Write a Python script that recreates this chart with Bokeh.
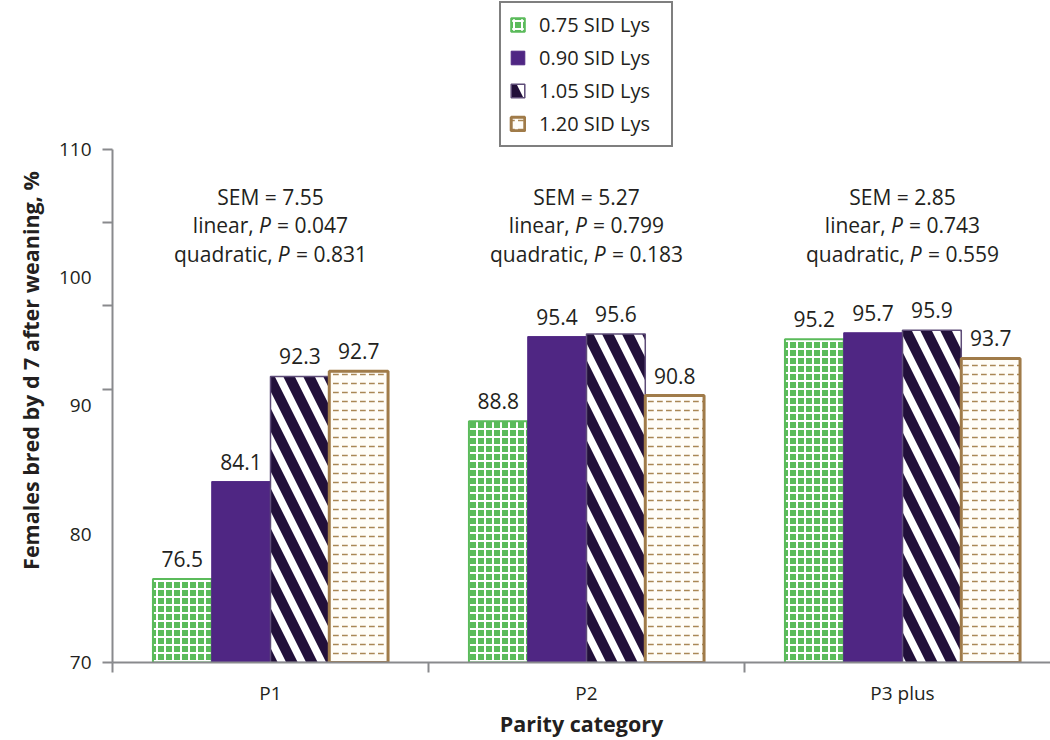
from bokeh.plotting import figure
from bokeh.models import ColumnDataSource, FixedTicker, Range1d, Legend, LegendItem, Title
from bokeh.core.properties import value
from bokeh.embed import file_html
from bokeh.resources import INLINE

# ---------------- data ----------------
categories = ["P1", "P2", "P3 plus"]
treatments = ["0.75 SID Lys", "0.90 SID Lys", "1.05 SID Lys", "1.20 SID Lys"]
lys_075 = [76.5, 88.8, 95.2]
lys_090 = [84.1, 95.4, 95.7]
lys_105 = [92.3, 95.6, 95.9]
lys_120 = [92.7, 90.8, 93.7]
sem_values = ["7.55", "5.27", "2.85"]
p_linear = ["0.047", "0.799", "0.743"]
p_quadratic = ["0.831", "0.183", "0.559"]
y_ticks = [70, 80, 90, 100, 110]
y_title = "Females bred by d 7 after weaning, %"
x_title = "Parity category"

# ---------------- style ----------------
FONT = "Open Sans"
TEXT = "#231F20"
AXIS = "#898A8D"
Y0, Y1 = 70, 110
W, H = 1050, 740
B_LEFT, B_BOTTOM, B_RIGHT = 112, 77, 0
FRAME_W = W - B_LEFT - B_RIGHT
FRAME_H = H - B_BOTTOM             # frame reaches the top of the canvas
AXIS_TOP_PX = 149                  # where the 110 line sits
PXY = (FRAME_H - AXIS_TOP_PX) / (Y1 - Y0)
Y_END = Y1 + AXIS_TOP_PX / PXY
X_END = FRAME_W / 316.0

p = figure(width=W, height=H, x_range=Range1d(0, X_END), y_range=Range1d(Y0, Y_END),
           output_backend="svg", toolbar_location=None,
           min_border_left=B_LEFT, min_border_top=0,
           min_border_bottom=B_BOTTOM, min_border_right=B_RIGHT)
p.outline_line_color = None
p.xgrid.visible = False
p.ygrid.visible = False
p.background_fill_color = "white"
p.border_fill_color = "white"

series = [lys_075, lys_090, lys_105, lys_120]
bar_w = 0.186
offsets = [-1.5 * bar_w, -0.5 * bar_w, 0.5 * bar_w, 1.5 * bar_w]
styles = [
    dict(fill_color="#5BBB5B", line_color="#5BBB5B", line_width=2,
         hatch_pattern="+", hatch_color="white", hatch_scale=8, hatch_weight=2),
    dict(fill_color="#4F2683", line_color="#4F2683", line_width=1),
    dict(fill_color="#22103A", line_color="#5E4C78", line_width=1.5,
         hatch_pattern="\\", hatch_color="white", hatch_scale=40, hatch_weight=7.5),
    dict(fill_color="#FFFDF8", line_color="#A07B49", line_width=3,
         hatch_pattern='"', hatch_color="#A98755", hatch_scale=9, hatch_weight=1.5),
]

FS = 21
renderers = []
for vals, off, st in zip(series, offsets, styles):
    xs = [i + 0.5 + off for i in range(len(categories))]
    src = ColumnDataSource(dict(x=xs, top=vals, bottom=[Y0] * len(vals),
                                ly=[v + 20 / PXY for v in vals],
                                txt=[f"{v:.1f}" for v in vals]))
    r = p.vbar(x="x", top="top", bottom="bottom", width=bar_w, source=src, **st)
    renderers.append(r)
    p.text(x="x", y="ly", text="txt", source=src, text_align="center",
           text_baseline="middle", text_font=value(FONT), text_font_size=f"{FS}px",
           text_color=TEXT)

# ---------- annotation (SEM / P values) ----------
CH = {' ': 532, ',': 502, '.': 545, '=': 1171, 'P': 1235, 'S': 1094, 'E': 1139,
      'M': 1831, 'a': 1139, 'c': 975, 'd': 1255, 'e': 1149, 'i': 518, 'l': 518,
      'n': 1257, 'q': 1255, 'r': 836, 't': 717, 'u': 1257}
def tw(s):
    return sum(CH.get(c, 1171) for c in s) * FS / 2048

line_px = [47.7, 76.0, 104.5]  # pixel distance below the 110 line
sem_x, sem_y, sem_t = [], [], []
l_x, l_y, l_t, l_o = [], [], [], []
p_x, p_y, p_o = [], [], []
r_x, r_y, r_t, r_o = [], [], [], []
for i in range(len(categories)):
    c = i + 0.5
    sem_x.append(c); sem_y.append(Y1 - line_px[0] / PXY); sem_t.append(f"SEM = {sem_values[i]}")
    for k, (word, pv) in enumerate([("linear,", p_linear[i]), ("quadratic,", p_quadratic[i])]):
        yy = Y1 - line_px[k + 1] / PXY
        full = f"{word} P = {pv}"
        start = -tw(full) / 2
        l_x.append(c); l_y.append(yy); l_t.append(word); l_o.append(start)
        p_x.append(c); p_y.append(yy); p_o.append(start + tw(word + " "))
        r_x.append(c); r_y.append(yy); r_t.append(f"= {pv}"); r_o.append(start + tw(word + " P "))

common = dict(text_baseline="middle", text_font=value(FONT), text_font_size=f"{FS}px",
              text_color=TEXT)
p.text(x="x", y="y", text="t", source=ColumnDataSource(dict(x=sem_x, y=sem_y, t=sem_t)),
       text_align="center", **common)
p.text(x="x", y="y", text="t", x_offset="o",
       source=ColumnDataSource(dict(x=l_x, y=l_y, t=l_t, o=l_o)), text_align="left", **common)
p.text(x="x", y="y", text="t", x_offset="o",
       source=ColumnDataSource(dict(x=p_x, y=p_y, t=["P"] * len(p_x), o=p_o)),
       text_align="left", text_font_style="italic", **common)
p.text(x="x", y="y", text="t", x_offset="o",
       source=ColumnDataSource(dict(x=r_x, y=r_y, t=r_t, o=r_o)), text_align="left", **common)

# ---------------- axes ----------------
yax = p.yaxis[0]
yax.bounds = (Y0, Y1)
yax.ticker = FixedTicker(ticks=y_ticks, minor_ticks=[70, 91.3, 97.8, 104.3, 110])
yax.major_tick_out = 0
yax.major_tick_in = 0
yax.minor_tick_out = 10
yax.minor_tick_in = 0
yax.minor_tick_line_color = AXIS
yax.minor_tick_line_width = 2
yax.axis_line_color = AXIS
yax.axis_line_width = 2
yax.major_label_text_font = FONT
yax.major_label_text_font_size = "19px"
yax.major_label_text_color = TEXT
yax.major_label_standoff = 11

xax = p.xaxis[0]
xax.ticker = FixedTicker(ticks=[i + 0.5 for i in range(len(categories))],
                         minor_ticks=list(range(len(categories) + 1)))
xax.major_label_overrides = {i + 0.5: c for i, c in enumerate(categories)}
xax.major_tick_out = 0
xax.major_tick_in = 0
xax.minor_tick_out = 10
xax.minor_tick_in = 0
xax.minor_tick_line_color = AXIS
xax.minor_tick_line_width = 2
xax.axis_line_color = AXIS
xax.axis_line_width = 2
xax.major_label_text_font = FONT
xax.major_label_text_font_size = "19px"
xax.major_label_text_color = TEXT
xax.major_label_standoff = 7
xax.axis_label = x_title
xax.axis_label_text_font = FONT
xax.axis_label_text_font_size = "21.5px"
xax.axis_label_text_font_style = "bold"
xax.axis_label_text_color = TEXT
xax.axis_label_standoff = 0

# y title: starts (reading upward) at this many pixels above the bottom of the frame
YT_FS = 21.5
yt_len = 371 * YT_FS / 20
yt_start = 371 + yt_len / 2
ytitle = Title(text=y_title, align="left", offset=FRAME_H - yt_start, standoff=22,
               text_font=FONT, text_font_size=f"{YT_FS}px", text_font_style="bold",
               text_color=TEXT)
p.add_layout(ytitle, "left")

# ---------------- legend ----------------
legend = Legend(items=[LegendItem(label=t, renderers=[r]) for t, r in zip(treatments, renderers)],
                location=(387, FRAME_H - 148), orientation="vertical",
                label_text_font=FONT, label_text_font_size="20px", label_text_color=TEXT,
                glyph_height=17, glyph_width=17, label_height=25, label_width=124,
                label_standoff=13, spacing=6, padding=8, margin=0,
                border_line_color="black", border_line_width=2,
                background_fill_color="white", background_fill_alpha=1.0)
p.add_layout(legend)

open("out.html", "w").write(file_html(p, INLINE))
